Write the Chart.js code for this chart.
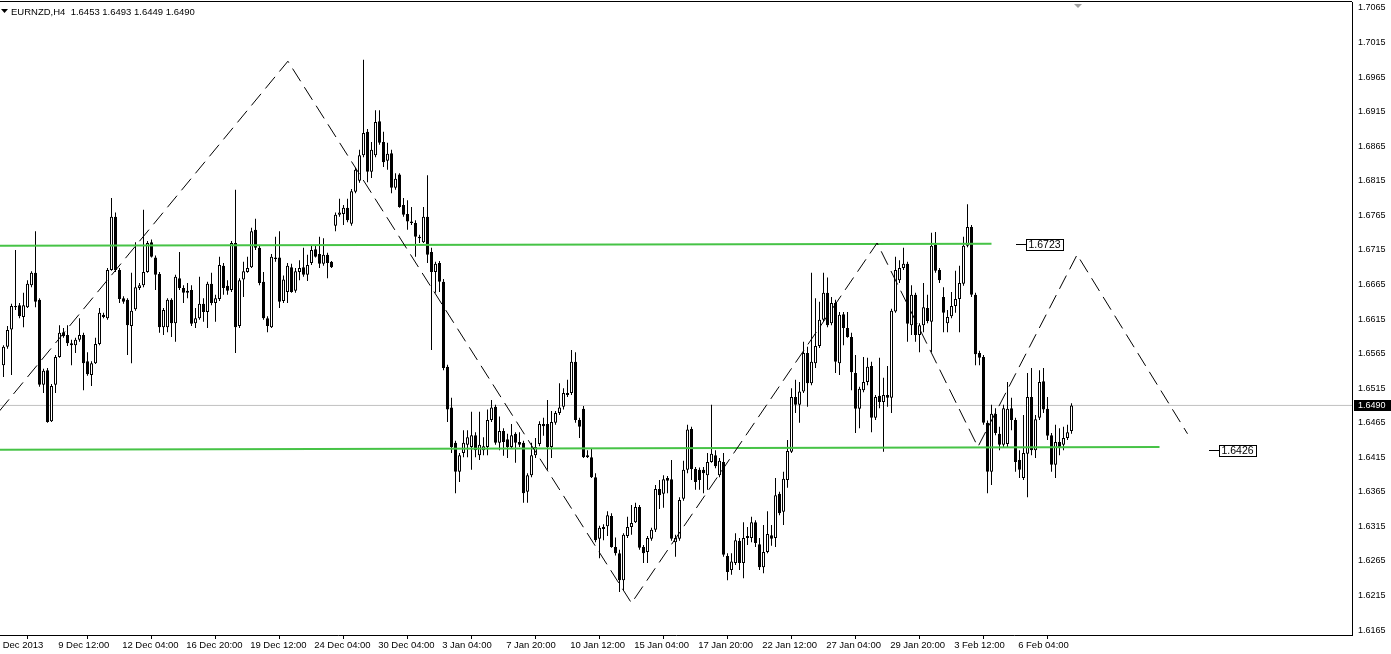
<!DOCTYPE html>
<html><head><meta charset="utf-8">
<script src="https://cdn.jsdelivr.net/npm/chart.js@4.4.1/dist/chart.umd.min.js"></script>
<style>html,body{margin:0;padding:0;background:#fff;overflow:hidden}canvas{display:block}</style>
</head><body>
<canvas id="c" width="1391" height="654"></canvas>
<script>
const symbol = 'EURNZD,H4';
const opens = [1.6548,1.6575,1.6600,1.6634,1.6635,1.6618,1.6632,1.6664,1.6682,1.6643,1.6520,1.6541,1.6467,1.6520,1.6560,1.6596,1.6592,1.6580,1.6577,1.6585,1.6592,1.6554,1.6534,1.6551,1.6579,1.6621,1.6616,1.6686,1.6763,1.6686,1.6645,1.6643,1.6605,1.6629,1.6660,1.6664,1.6683,1.6726,1.6704,1.6680,1.6603,1.6603,1.6643,1.6609,1.6674,1.6660,1.6653,1.6657,1.6609,1.6616,1.6637,1.6625,1.6666,1.6638,1.6644,1.6692,1.6663,1.6657,1.6725,1.6605,1.6672,1.6683,1.6690,1.6744,1.6718,1.6669,1.6616,1.6603,1.6704,1.6704,1.6641,1.6654,1.6690,1.6656,1.6683,1.6690,1.6679,1.6696,1.6716,1.6709,1.6695,1.6708,1.6698,1.6750,1.6766,1.6767,1.6776,1.6753,1.6799,1.6815,1.6852,1.6886,1.6828,1.6852,1.6901,1.6871,1.6844,1.6855,1.6805,1.6824,1.6780,1.6767,1.6756,1.6754,1.6734,1.6726,1.6763,1.6712,1.6683,1.6696,1.6669,1.6546,1.6487,1.6436,1.6394,1.6421,1.6433,1.6430,1.6447,1.6418,1.6425,1.6430,1.6469,1.6488,1.6436,1.6453,1.6441,1.6430,1.6449,1.6437,1.6436,1.6365,1.6389,1.6418,1.6434,1.6463,1.6463,1.6430,1.6465,1.6479,1.6488,1.6505,1.6508,1.6553,1.6469,1.6485,1.6418,1.6415,1.6386,1.6297,1.6311,1.6315,1.6330,1.6285,1.6276,1.6237,1.6301,1.6314,1.6321,1.6343,1.6285,1.6278,1.6297,1.6310,1.6369,1.6362,1.6385,1.6383,1.6292,1.6297,1.6355,1.6397,1.6456,1.6398,1.6397,1.6397,1.6389,1.6408,1.6418,1.6389,1.6408,1.6272,1.6252,1.6262,1.6294,1.6262,1.6298,1.6298,1.6321,1.6289,1.6256,1.6278,1.6302,1.6298,1.6362,1.6336,1.6382,1.6423,1.6502,1.6491,1.6510,1.6566,1.6522,1.6551,1.6576,1.6614,1.6653,1.6609,1.6638,1.6551,1.6622,1.6602,1.6589,1.6537,1.6485,1.6512,1.6524,1.6547,1.6472,1.6504,1.6495,1.6505,1.6501,1.6626,1.6671,1.6689,1.6695,1.6606,1.6650,1.6592,1.6606,1.6631,1.6611,1.6722,1.6686,1.6647,1.6609,1.6619,1.6634,1.6644,1.6666,1.6721,1.6748,1.6650,1.6566,1.6560,1.6465,1.6394,1.6478,1.6449,1.6433,1.6434,1.6486,1.6469,1.6411,1.6385,1.6420,1.6502,1.6425,1.6472,1.6525,1.6485,1.6447,1.6404,1.6437,1.6433,1.6443,1.6453];
const highs = [1.6577,1.6605,1.6637,1.6715,1.6638,1.6653,1.6671,1.6684,1.6742,1.6645,1.6543,1.6544,1.6521,1.6563,1.6606,1.6602,1.6606,1.6585,1.6588,1.6616,1.6595,1.6567,1.6554,1.6588,1.6631,1.6624,1.6689,1.6790,1.6769,1.6689,1.6648,1.6645,1.6682,1.6726,1.6667,1.6773,1.6728,1.6730,1.6707,1.6683,1.6631,1.6645,1.6645,1.6679,1.6712,1.6664,1.6667,1.6664,1.6631,1.6676,1.6645,1.6669,1.6682,1.6650,1.6705,1.6696,1.6671,1.6728,1.6802,1.6674,1.6698,1.6705,1.6747,1.6760,1.6721,1.6683,1.6619,1.6709,1.6734,1.6742,1.6678,1.6696,1.6695,1.6689,1.6700,1.6718,1.6708,1.6722,1.6721,1.6734,1.6732,1.6711,1.6699,1.6769,1.6789,1.6780,1.6789,1.6803,1.6834,1.6860,1.6990,1.6890,1.6871,1.6917,1.6917,1.6886,1.6870,1.6860,1.6826,1.6826,1.6790,1.6787,1.6777,1.6758,1.6737,1.6777,1.6823,1.6718,1.6698,1.6699,1.6673,1.6549,1.6501,1.6439,1.6421,1.6454,1.6454,1.6481,1.6451,1.6481,1.6444,1.6484,1.6498,1.6491,1.6474,1.6457,1.6449,1.6463,1.6451,1.6451,1.6439,1.6392,1.6436,1.6443,1.6467,1.6472,1.6498,1.6482,1.6482,1.6522,1.6515,1.6527,1.6570,1.6567,1.6472,1.6489,1.6425,1.6428,1.6392,1.6316,1.6318,1.6337,1.6334,1.6299,1.6281,1.6305,1.6329,1.6346,1.6349,1.6346,1.6288,1.6301,1.6313,1.6375,1.6382,1.6389,1.6388,1.6411,1.6303,1.6357,1.6410,1.6462,1.6459,1.6401,1.6400,1.6401,1.6421,1.6491,1.6425,1.6414,1.6421,1.6276,1.6276,1.6305,1.6298,1.6321,1.6314,1.6329,1.6324,1.6298,1.6317,1.6337,1.6317,1.6385,1.6365,1.6394,1.6440,1.6515,1.6527,1.6524,1.6582,1.6575,1.6682,1.6645,1.6640,1.6682,1.6675,1.6647,1.6643,1.6625,1.6625,1.6625,1.6595,1.6563,1.6517,1.6560,1.6559,1.6553,1.6505,1.6559,1.6530,1.6547,1.6630,1.6705,1.6700,1.6718,1.6698,1.6664,1.6653,1.6609,1.6667,1.6650,1.6740,1.6741,1.6689,1.6661,1.6628,1.6654,1.6685,1.6692,1.6734,1.6781,1.6751,1.6653,1.6569,1.6563,1.6468,1.6491,1.6486,1.6459,1.6491,1.6524,1.6501,1.6472,1.6425,1.6476,1.6537,1.6544,1.6476,1.6541,1.6544,1.6502,1.6450,1.6462,1.6457,1.6459,1.6462,1.6493];
const lows = [1.6531,1.6572,1.6534,1.6628,1.6616,1.6603,1.6631,1.6661,1.6632,1.6517,1.6508,1.6465,1.6466,1.6508,1.6559,1.6588,1.6576,1.6548,1.6566,1.6582,1.6512,1.6533,1.6518,1.6550,1.6577,1.6616,1.6614,1.6685,1.6683,1.6638,1.6637,1.6563,1.6551,1.6627,1.6657,1.6661,1.6682,1.6704,1.6657,1.6595,1.6592,1.6596,1.6589,1.6582,1.6657,1.6638,1.6645,1.6605,1.6602,1.6614,1.6611,1.6602,1.6635,1.6611,1.6641,1.6650,1.6650,1.6654,1.6566,1.6602,1.6647,1.6682,1.6689,1.6715,1.6664,1.6614,1.6596,1.6602,1.6698,1.6631,1.6638,1.6638,1.6653,1.6653,1.6671,1.6676,1.6670,1.6693,1.6704,1.6689,1.6692,1.6674,1.6689,1.6742,1.6763,1.6751,1.6755,1.6750,1.6797,1.6812,1.6849,1.6813,1.6819,1.6849,1.6867,1.6835,1.6831,1.6797,1.6802,1.6776,1.6763,1.6744,1.6751,1.6705,1.6725,1.6725,1.6696,1.6570,1.6653,1.6654,1.6541,1.6466,1.6421,1.6363,1.6379,1.6415,1.6415,1.6397,1.6415,1.6411,1.6418,1.6418,1.6466,1.6433,1.6425,1.6417,1.6414,1.6428,1.6407,1.6430,1.6349,1.6349,1.6386,1.6414,1.6431,1.6446,1.6397,1.6414,1.6462,1.6476,1.6484,1.6502,1.6505,1.6465,1.6443,1.6414,1.6414,1.6385,1.6292,1.6269,1.6295,1.6301,1.6284,1.6273,1.6220,1.6223,1.6298,1.6303,1.6320,1.6281,1.6262,1.6262,1.6294,1.6307,1.6340,1.6342,1.6363,1.6294,1.6271,1.6294,1.6352,1.6392,1.6382,1.6368,1.6368,1.6363,1.6368,1.6407,1.6399,1.6386,1.6271,1.6237,1.6245,1.6259,1.6252,1.6240,1.6288,1.6292,1.6285,1.6252,1.6247,1.6276,1.6287,1.6285,1.6331,1.6317,1.6371,1.6421,1.6479,1.6465,1.6508,1.6488,1.6519,1.6544,1.6573,1.6611,1.6603,1.6606,1.6537,1.6534,1.6577,1.6588,1.6512,1.6450,1.6457,1.6509,1.6519,1.6451,1.6469,1.6486,1.6423,1.6488,1.6479,1.6624,1.6667,1.6686,1.6582,1.6592,1.6582,1.6567,1.6596,1.6609,1.6567,1.6682,1.6667,1.6596,1.6596,1.6616,1.6624,1.6596,1.6663,1.6719,1.6647,1.6548,1.6548,1.6462,1.6363,1.6375,1.6447,1.6425,1.6430,1.6430,1.6454,1.6394,1.6385,1.6382,1.6357,1.6418,1.6414,1.6469,1.6479,1.6440,1.6394,1.6385,1.6418,1.6425,1.6440,1.6449];
const closes = [1.6575,1.6599,1.6634,1.6632,1.6619,1.6635,1.6666,1.6682,1.6640,1.6520,1.6540,1.6466,1.6518,1.6560,1.6595,1.6590,1.6580,1.6577,1.6585,1.6592,1.6551,1.6535,1.6551,1.6579,1.6624,1.6618,1.6686,1.6763,1.6686,1.6644,1.6640,1.6606,1.6627,1.6661,1.6664,1.6683,1.6725,1.6705,1.6679,1.6603,1.6628,1.6643,1.6609,1.6676,1.6660,1.6653,1.6656,1.6608,1.6616,1.6637,1.6625,1.6666,1.6638,1.6645,1.6693,1.6660,1.6656,1.6725,1.6603,1.6671,1.6684,1.6689,1.6742,1.6718,1.6667,1.6616,1.6605,1.6705,1.6702,1.6640,1.6672,1.6692,1.6654,1.6684,1.6689,1.6679,1.6693,1.6715,1.6705,1.6695,1.6708,1.6696,1.6690,1.6766,1.6769,1.6776,1.6758,1.6800,1.6831,1.6852,1.6884,1.6828,1.6860,1.6900,1.6870,1.6842,1.6854,1.6805,1.6818,1.6777,1.6766,1.6756,1.6754,1.6734,1.6732,1.6763,1.6708,1.6683,1.6695,1.6669,1.6544,1.6484,1.6430,1.6394,1.6418,1.6436,1.6444,1.6447,1.6425,1.6433,1.6431,1.6469,1.6487,1.6436,1.6453,1.6437,1.6430,1.6447,1.6436,1.6433,1.6363,1.6389,1.6418,1.6430,1.6463,1.6460,1.6430,1.6466,1.6479,1.6487,1.6508,1.6508,1.6553,1.6469,1.6459,1.6415,1.6415,1.6386,1.6295,1.6313,1.6314,1.6331,1.6285,1.6276,1.6237,1.6303,1.6314,1.6320,1.6343,1.6284,1.6276,1.6298,1.6310,1.6369,1.6360,1.6383,1.6381,1.6297,1.6298,1.6353,1.6397,1.6455,1.6398,1.6379,1.6382,1.6392,1.6408,1.6420,1.6402,1.6410,1.6274,1.6249,1.6264,1.6295,1.6262,1.6298,1.6301,1.6321,1.6291,1.6256,1.6278,1.6304,1.6297,1.6360,1.6334,1.6384,1.6424,1.6502,1.6491,1.6510,1.6566,1.6522,1.6553,1.6576,1.6614,1.6653,1.6606,1.6638,1.6553,1.6621,1.6602,1.6589,1.6538,1.6485,1.6514,1.6524,1.6546,1.6472,1.6502,1.6495,1.6505,1.6501,1.6627,1.6686,1.6689,1.6695,1.6608,1.6650,1.6592,1.6606,1.6632,1.6612,1.6721,1.6685,1.6671,1.6624,1.6618,1.6634,1.6644,1.6667,1.6721,1.6748,1.6650,1.6564,1.6559,1.6465,1.6394,1.6478,1.6450,1.6433,1.6486,1.6485,1.6469,1.6408,1.6397,1.6421,1.6502,1.6425,1.6470,1.6524,1.6484,1.6446,1.6404,1.6437,1.6430,1.6443,1.6451,1.6490];

const timeLabels = ['Dec 2013','9 Dec 12:00','12 Dec 04:00','16 Dec 20:00','19 Dec 12:00','24 Dec 04:00','30 Dec 04:00','3 Jan 04:00','7 Jan 20:00','10 Jan 12:00','15 Jan 04:00','17 Jan 20:00','22 Jan 12:00','27 Jan 04:00','29 Jan 20:00','3 Feb 12:00','6 Feb 04:00'];
const timeTickBars = [-0.875,13,29,45,61,77,93,109,125,141,157,173,189,205,221,237,253];
const priceTicks = [1.6165,1.6215,1.6265,1.6315,1.6365,1.6415,1.6465,1.6515,1.6565,1.6615,1.6665,1.6715,1.6765,1.6815,1.6865,1.6915,1.6965,1.7015,1.7065];

const resistanceBars = [-1, 247];
const resistancePrices = [1.6721, 1.6724];
const resistanceLabel = '1.6723';
const supportBars = [-1, 289];
const supportPrices = [1.6426, 1.6430];
const supportLabel = '1.6426';
const zigzagBars = [-1, 71.1, 157, 218.4, 243.6, 268.4, 296];
const zigzagPrices = [1.6482, 1.6988, 1.6204, 1.6725, 1.6430, 1.6708, 1.6449];
const labelBars = [253, 301.4];

const FONT = "'Liberation Sans', Arial, sans-serif";
const AREA_W = 1352, X_MIN = -0.875, BAR_PX = 4;
const X_MAX = X_MIN + AREA_W / BAR_PX;
const P_MAX = 1.70737, P_MIN = 1.61578;
const n = closes.length;

const wickData = opens.map((o, i) => ({x: i, y: [Math.min(lows[i], o, closes[i]), Math.max(highs[i], o, closes[i])]}));
const bodyData = opens.map((o, i) => ({x: i, y: [o, closes[i]]}));
const bodyColors = opens.map((o, i) => closes[i] >= o ? '#ffffff' : '#000000');
const pts = (bars, prices) => bars.map((b, i) => ({x: b, y: prices[i]}));

const decor = {
  id: 'decor',
  afterDatasetsDraw(chart) {
    const {ctx, chartArea: a, scales: {x, y}} = chart;
    ctx.save();
    // frame top
    ctx.fillStyle = '#000';
    ctx.fillRect(0, a.top - 1, a.right, 1);
    // title
    ctx.beginPath(); ctx.moveTo(1, 9); ctx.lineTo(8, 9); ctx.lineTo(4.5, 13); ctx.closePath(); ctx.fill();
    ctx.font = '9.5px ' + FONT; ctx.textBaseline = 'middle'; ctx.textAlign = 'left';
    const k = n - 1;
    ctx.fillText(symbol + '  ' + [opens[k], highs[k], lows[k], closes[k]].map(v => v.toFixed(4)).join(' '), 11, 12.5);
    // chart shift marker
    const sx = Math.round(x.getPixelForValue(n + 0.6));
    ctx.fillStyle = '#a0a0a0';
    ctx.beginPath(); ctx.moveTo(sx - 4, a.top + 2); ctx.lineTo(sx + 4, a.top + 2); ctx.lineTo(sx, a.top + 6); ctx.closePath(); ctx.fill();
    // line labels
    const lbl = (bar, price, text) => {
      const px = Math.round(x.getPixelForValue(bar));
      const py = Math.round(y.getPixelForValue(price)) + 0.5;
      ctx.strokeStyle = '#000'; ctx.lineWidth = 1;
      ctx.beginPath(); ctx.moveTo(px, py); ctx.lineTo(px + 10, py); ctx.stroke();
      ctx.font = '10.5px ' + FONT;
      const w = Math.ceil(ctx.measureText(text).width) + 4;
      ctx.fillStyle = '#fff'; ctx.fillRect(px + 10, py - 5, w, 11);
      ctx.strokeRect(px + 10.5, py - 5, w, 11);
      ctx.fillStyle = '#000'; ctx.textBaseline = 'middle';
      ctx.fillText(text, px + 12.5, py + 1);
    };
    lbl(labelBars[0], resistancePrices[1] - 0.0001, resistanceLabel);
    lbl(labelBars[1], supportPrices[0] - 0.00005, supportLabel);
    // current price tag
    const cy = Math.round(y.getPixelForValue(closes[k]));
    ctx.fillStyle = '#000'; ctx.fillRect(a.right + 2, cy - 5, 37, 11);
    ctx.fillStyle = '#fff'; ctx.font = '9px ' + FONT; ctx.textBaseline = 'middle';
    ctx.fillText(closes[k].toFixed(4), a.right + 6, cy + 0.5);
    ctx.restore();
  }
};

new Chart(document.getElementById('c'), {
  type: 'bar',
  data: {
    datasets: [
      {type: 'line', data: pts([X_MIN, X_MAX], [closes[n - 1], closes[n - 1]]), borderColor: '#c0c0c0', borderWidth: 1, pointRadius: 0, order: 20},
      {type: 'bar', data: wickData, backgroundColor: '#000', borderWidth: 0, barThickness: 1, grouped: false, inflateAmount: 0, order: 10},
      {type: 'bar', data: bodyData, backgroundColor: bodyColors, borderColor: '#000', borderWidth: 1, borderSkipped: false, barThickness: 3, grouped: false, inflateAmount: 0, minBarLength: 1, order: 9},
      {type: 'line', data: pts(resistanceBars, resistancePrices), borderColor: '#46c346', borderWidth: 2, pointRadius: 0, order: 2},
      {type: 'line', data: pts(supportBars, supportPrices), borderColor: '#46c346', borderWidth: 2, pointRadius: 0, order: 2},
      {type: 'line', data: pts(zigzagBars, zigzagPrices), borderColor: '#000', borderWidth: 1, borderDash: [15, 7], pointRadius: 0, order: 1}
    ]
  },
  options: {
    responsive: false, animation: false, events: [],
    layout: {padding: {top: 2, left: 0, right: 0, bottom: 0}},
    plugins: {legend: {display: false}, tooltip: {enabled: false}},
    scales: {
      x: {
        type: 'linear', min: X_MIN, max: X_MAX, offset: false,
        grid: {drawOnChartArea: false, drawTicks: true, tickLength: 4, color: '#000'},
        border: {display: true, color: '#000', width: 1},
        afterBuildTicks: s => { s.ticks = timeTickBars.map(v => ({value: v})); },
        afterFit: s => { s.height = 19; s.paddingLeft = 0; s.paddingRight = 0; },
        ticks: {autoSkip: false, maxRotation: 0, align: 'start', padding: 1, color: '#000',
          font: {family: FONT, size: 9.5},
          callback: (v, i) => ' ' + timeLabels[i]}
      },
      y: {
        position: 'right', min: P_MIN, max: P_MAX,
        grid: {drawOnChartArea: false, drawTicks: false},
        border: {display: true, color: '#000', width: 1},
        afterBuildTicks: s => { s.ticks = priceTicks.map(v => ({value: v})); },
        afterFit: s => { s.width = 1391 - AREA_W; s.paddingTop = 0; s.paddingBottom = 0; },
        ticks: {padding: 6, color: '#000', font: {family: FONT, size: 9}, callback: v => v.toFixed(4)}
      }
    }
  },
  plugins: [decor]
});
</script>
</body></html>
